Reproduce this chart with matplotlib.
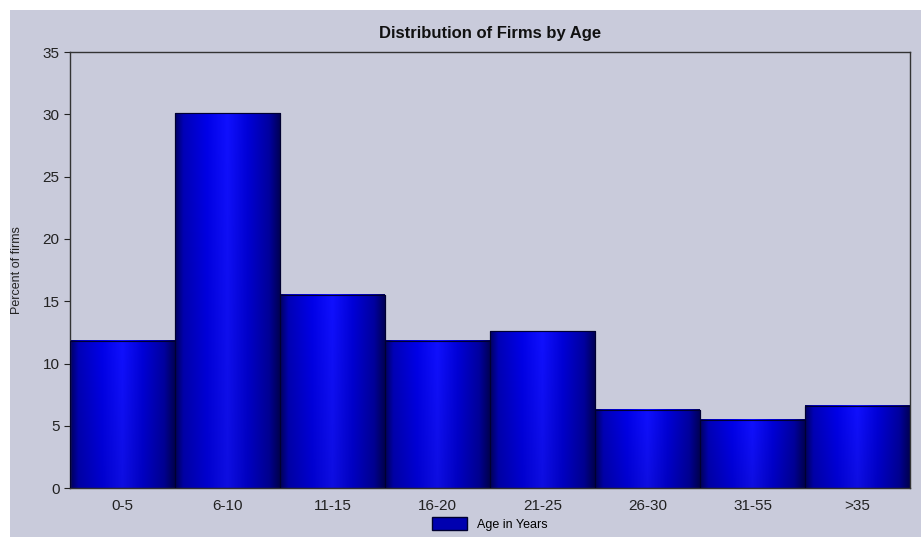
import numpy as np
import matplotlib
matplotlib.use("Agg")
import matplotlib.pyplot as plt
from matplotlib.colors import LinearSegmentedColormap
from matplotlib.patches import Rectangle, Patch

# Data
age_groups = ['0-5', '6-10', '11-15', '16-20', '21-25', '26-30', '31-55', '>35']
percent_firms = [11.8, 30.1, 15.5, 11.8, 12.6, 6.3, 5.5, 6.6]

bg = '#c9cbdb'
plt.rcParams['font.family'] = ['Liberation Sans', 'DejaVu Sans']

fig = plt.figure(figsize=(9.21, 5.37), dpi=100, facecolor='white')
# panel background with white strip at top and left
fig.patches.append(Rectangle((10 / 921, 0), 1, 1 - 10 / 537, transform=fig.transFigure,
                             facecolor=bg, edgecolor='none', zorder=-5))

ax = fig.add_axes([0.076, 0.091, 0.912, 0.812])
ax.set_facecolor(bg)

# cylinder-like shading across each bar
shade = LinearSegmentedColormap.from_list(
    'shade', [(0.0, '#000060'), (0.08, '#0000b8'), (0.3, '#0000e8'),
              (0.5, '#1010ff'), (0.7, '#0000d8'), (0.9, '#0000a0'), (1.0, '#000058')])
grad = np.linspace(0, 1, 256).reshape(1, -1)
vert = np.linspace(0.88, 1.0, 64).reshape(-1, 1)

x = np.arange(len(age_groups))
bars = ax.bar(x, percent_firms, width=1.0, color='#0000c0', edgecolor='#000030',
              linewidth=0.8, zorder=2)
for b in bars:
    x0, w, h = b.get_x(), b.get_width(), b.get_height()
    rgba = shade(grad)[0]
    img = rgba[None, :, :3] * vert[:, :, None]
    ax.imshow(img, extent=[x0, x0 + w, 0, h], aspect='auto', origin='lower',
              zorder=2.5, interpolation='bilinear')
    ax.add_patch(Rectangle((x0, 0), w, h, fill=False, edgecolor='#000030',
                           linewidth=0.8, zorder=3))

ax.set_xlim(-0.5, len(age_groups) - 0.5)
ax.set_ylim(0, 35)
ax.set_yticks(range(0, 36, 5))
ax.set_xticks(x)
ax.set_xticklabels(age_groups)
ax.tick_params(axis='both', labelsize=11, colors='#222222', length=4)
ax.tick_params(axis='x', length=0, pad=8)
for s in ax.spines.values():
    s.set_color('#333333')
    s.set_linewidth(1.0)

ax.set_ylabel('Percent of firms', fontsize=9, color='#222222', labelpad=14)
ax.set_title('Distribution of Firms by Age', fontsize=12, fontweight='bold',
             color='#111111', pad=10)

ax.legend(handles=[Patch(facecolor='#0000b0', edgecolor='#000030', label='Age in Years')],
          loc='lower center', bbox_to_anchor=(0.5, -0.115), frameon=False,
          fontsize=9, handlelength=2.8, handleheight=1.2, borderpad=0.1)

fig.savefig('out.png', dpi=100, facecolor=fig.get_facecolor())
